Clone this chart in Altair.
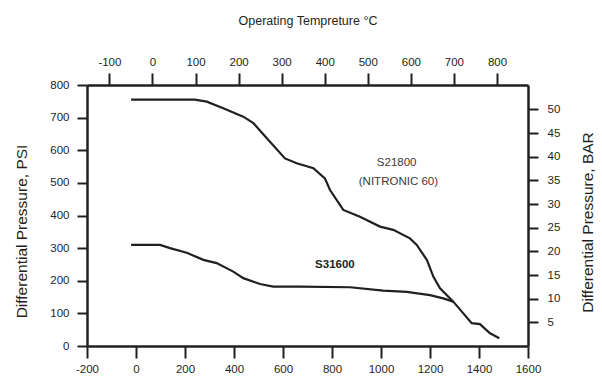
import altair as alt
import pandas as pd

# ---- data ----
s21800_temp_f = [-20, 240, 289, 356, 438, 479, 534, 608, 656, 724, 771, 792, 846, 914,
                 996, 1050, 1118, 1146, 1187, 1214, 1241, 1295, 1336, 1370, 1404, 1445, 1483]
s21800_psi = [755, 755, 749, 729, 703, 683, 637, 575, 560, 545, 514, 478, 417, 396,
              366, 356, 330, 310, 264, 212, 177, 136, 100, 70, 67, 39, 24]

s31600_temp_f = [-20, 98, 139, 207, 275, 329, 397, 438, 506, 560, 669, 874, 1009, 1105,
                 1200, 1254, 1295]
s31600_psi = [310, 310, 300, 286, 264, 254, 228, 208, 190, 182, 182, 180, 170, 166,
              156, 146, 136]

label_text = ["S21800", "(NITRONIC 60)"]
label_temp_f = [1064, 1071]
label_psi = [562, 504]
label2_text = ["S31600"]
label2_temp_f = [812]
label2_psi = [248]

f_ticks = [-200, 0, 200, 400, 600, 800, 1000, 1200, 1400, 1600]
psi_ticks = [0, 100, 200, 300, 400, 500, 600, 700, 800]
c_ticks = [-100, 0, 100, 200, 300, 400, 500, 600, 700, 800]
bar_ticks = [5, 10, 15, 20, 25, 30, 35, 40, 45, 50]

# ---- build tables ----
lines_df = pd.concat([
    pd.DataFrame({"temp_f": s21800_temp_f, "psi": s21800_psi, "series": "S21800"}),
    pd.DataFrame({"temp_f": s31600_temp_f, "psi": s31600_psi, "series": "S31600"}),
])
lab_df = pd.DataFrame({"temp_f": label_temp_f, "psi": label_psi, "t": label_text})
lab2_df = pd.DataFrame({"temp_f": label2_temp_f, "psi": label2_psi, "t": label2_text})
ax_df = pd.DataFrame({"c": [c_ticks[0]], "bar": [bar_ticks[0]]})

INK = "#231f20"
FONT = "Liberation Sans"
W, H = 441, 261

common_axis = dict(
    domainColor=INK, domainWidth=2.5, tickColor=INK, tickWidth=2,
    labelFont=FONT, labelFontSize=11.5, labelColor=INK, grid=False,
    labelOverlap=False, labelFlush=False, labelExpr="'' + datum.value",
    titleFont=FONT, titleFontWeight="normal", titleColor=INK,
)

x_f = alt.X("temp_f:Q",
            scale=alt.Scale(domain=[-200, 1600], nice=False, zero=False),
            axis=alt.Axis(orient="bottom", values=f_ticks, title=None,
                          tickSize=12, labelPadding=5, **common_axis))
y_psi = alt.Y("psi:Q",
              scale=alt.Scale(domain=[0, 800], nice=False, zero=False),
              axis=alt.Axis(orient="left", values=psi_ticks,
                            title="Differential Pressure, PSI", titleFontSize=15.5,
                            titleAngle=270, titleX=-66, titleY=146,
                            titleBaseline="middle",
                            tickSize=10, labelPadding=8, **common_axis))

lines = alt.Chart(lines_df).mark_line(color=INK, strokeWidth=2.2).encode(
    x=x_f, y=y_psi, detail="series:N")

t1 = alt.Chart(lab_df).mark_text(font=FONT, fontSize=11.5, color="#3a3a3a").encode(
    x=x_f, y=y_psi, text="t:N")
t2 = alt.Chart(lab2_df).mark_text(font=FONT, fontSize=11.5, fontWeight="bold", color=INK).encode(
    x=x_f, y=y_psi, text="t:N")

main = alt.layer(lines, t1, t2)

ax2 = alt.Chart(ax_df).mark_point(opacity=0).encode(
    x=alt.X("c:Q", scale=alt.Scale(domain=[-152, 872], nice=False, zero=False),
            axis=alt.Axis(orient="top", values=c_ticks, title="Operating Tempreture °C",
                          titleFontSize=12.5, titleY=-65, titleBaseline="middle",
                          tickSize=12, labelPadding=6, **common_axis)),
    y=alt.Y("bar:Q", scale=alt.Scale(domain=[0, 55.16], nice=False, zero=False),
            axis=alt.Axis(orient="right", values=bar_ticks,
                          title="Differential Pressure, BAR", titleFontSize=15.5,
                          titleAngle=270, titleX=59, titleY=137,
                          titleBaseline="middle",
                          tickSize=10, labelPadding=9, **common_axis)),
)

chart = alt.layer(main, ax2).resolve_scale(x="independent", y="independent").properties(
    width=W, height=H,
    padding={"left": 87, "top": 85, "right": 602 - 87 - W, "bottom": 380 - 85 - H},
    autosize=alt.AutoSizeParams(type="none"),
    background="white",
).configure_view(strokeWidth=0)

chart.save("out.html", embed_options={"renderer": "svg", "actions": False})
